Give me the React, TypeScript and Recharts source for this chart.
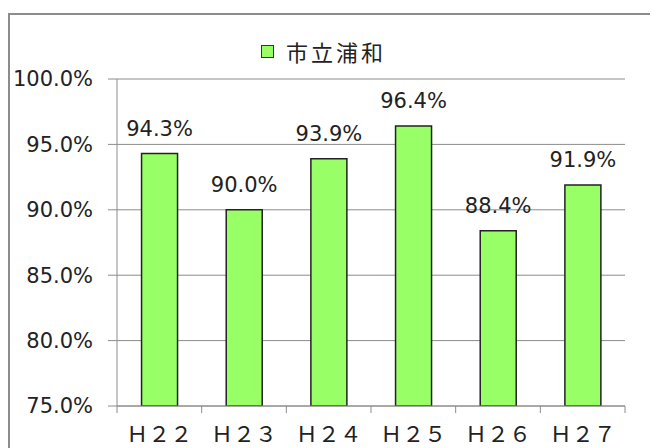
import React from 'react';
import { BarChart, Bar, XAxis, YAxis, CartesianGrid, LabelList } from 'recharts';

const categories = ['Ｈ２２', 'Ｈ２３', 'Ｈ２４', 'Ｈ２５', 'Ｈ２６', 'Ｈ２７'];
const rates = [94.3, 90.0, 93.9, 96.4, 88.4, 91.9];
const yTicks = [75, 80, 85, 90, 95, 100];
const seriesName = '市立浦和';

const data = categories.map((year, i) => ({ year, rate: rates[i] }));

const GRID = '#8c8c8c';
const NUM_FONT = "'DejaVu Sans', sans-serif";
const CJK_FONT = "'Noto Sans CJK JP', sans-serif";

// x labels + tick marks at the category boundaries (Excel style)
function YearTick(props: any) {
  const { x, y, payload, index } = props;
  const half = payload?.offset ?? 508 / categories.length / 2;
  const axisY = y - 20;
  return (
    <g>
      <line x1={x - half} x2={x - half} y1={axisY} y2={axisY + 7} stroke={GRID} />
      {index === categories.length - 1 && (
        <line x1={x + half} x2={x + half} y1={axisY} y2={axisY + 7} stroke={GRID} />
      )}
      <text x={x} y={y} dy="0.71em" textAnchor="middle" fontFamily={CJK_FONT} fontSize={22} fill="#222">
        {payload.value}
      </text>
    </g>
  );
}

export default function App() {
  return (
    <div
      style={{
        position: 'relative',
        marginTop: 5,
        width: 660,
        height: 450,
        border: `2px solid ${GRID}`,
        background: '#fff',
      }}
    >
      <div
        style={{
          position: 'absolute',
          left: 251,
          top: 20,
          display: 'flex',
          alignItems: 'center',
          fontFamily: CJK_FONT,
          fontSize: 22,
          letterSpacing: 3,
          color: '#222',
          zIndex: 2,
        }}
      >
        <span
          style={{
            display: 'inline-block',
            width: 11,
            height: 11,
            background: '#99ff66',
            border: '1px solid #333',
            marginRight: 12,
          }}
        />
        <span>{seriesName}</span>
      </div>
      <BarChart
        width={650}
        height={440}
        data={data}
        margin={{ top: 64, right: 35, bottom: 0, left: 0 }}
        barCategoryGap="29%"
      >
        <CartesianGrid vertical={false} stroke={GRID} />
        <XAxis
          dataKey="year"
          height={49}
          stroke={GRID}
          tickLine={false}
          tickSize={0}
          tickMargin={20}
          interval={0}
          tick={<YearTick />}
        />
        <YAxis
          width={107}
          domain={[75, 100]}
          ticks={yTicks}
          allowDataOverflow
          stroke={GRID}
          tickSize={9}
          tickMargin={15}
          tickFormatter={(v: number) => v.toFixed(1) + '%'}
          tick={{ fill: '#222', fontSize: 21, fontFamily: NUM_FONT }}
        />
        <Bar dataKey="rate" fill="#99ff66" stroke="#222" strokeWidth={1.5} isAnimationActive={false}>
          <LabelList
            dataKey="rate"
            position="top"
            offset={18}
            formatter={(v: any) => Number(v).toFixed(1) + '%'}
            style={{ fill: '#222', fontSize: 21, fontFamily: NUM_FONT }}
          />
        </Bar>
      </BarChart>
    </div>
  );
}
